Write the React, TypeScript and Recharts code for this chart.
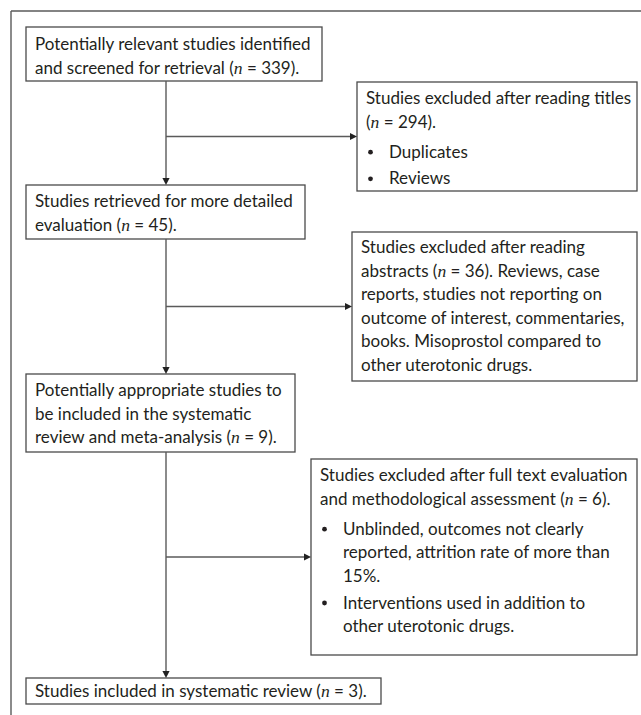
import React from "react";
import { ComposedChart, XAxis, YAxis, ReferenceArea, ReferenceLine } from "recharts";

// flow counts
const stageCounts = [339, 45, 9, 3];
const exclusionCounts = [294, 36, 6];

// box texts, "{n}" is replaced by "n = count"
const stageLines = [
  ["Potentially relevant studies identified", "and screened for retrieval ({n})."],
  ["Studies retrieved for more detailed", "evaluation ({n})."],
  ["Potentially appropriate studies to", "be included in the systematic", "review and meta-analysis ({n})."],
  ["Studies included in systematic review ({n})."],
];
const exclusionLines = [
  ["Studies excluded after reading titles", "({n})."],
  [
    "Studies excluded after reading",
    "abstracts ({n}). Reviews, case",
    "reports, studies not reporting on",
    "outcome of interest, commentaries,",
    "books. Misoprostol compared to",
    "other uterotonic drugs.",
  ],
  ["Studies excluded after full text evaluation", "and methodological assessment ({n})."],
];
const exclusionBullets = [
  [["Duplicates"], ["Reviews"]],
  [],
  [
    ["Unblinded, outcomes not clearly", "reported, attrition rate of more than", "15%."],
    ["Interventions used in addition to", "other uterotonic drugs."],
  ],
];

// layout (axis units == pixels)
const W = 641;
const H = 715;
const FRAME = 11;
const SPINE_X = 166;
const LINE_H = 23.6;
const LIST_GAP = 6.5;
const BULLET_GAP = 3;
const stageBoxes = [
  { x1: 26, x2: 322, y1: 27, y2: 81, pad: 23 },
  { x1: 26, x2: 305, y1: 185, y2: 239, pad: 22 },
  { x1: 26, x2: 295, y1: 374, y2: 452, pad: 22 },
  { x1: 26, x2: 381, y1: 678, y2: 704, pad: 19 },
];
const exclusionBoxes = [
  { x1: 357, x2: 637, y1: 82, y2: 191, pad: 22 },
  { x1: 352, x2: 637, y1: 232, y2: 381, pad: 21 },
  { x1: 311, x2: 637, y1: 459, y2: 655, pad: 22 },
];

const FONT = "Lato, 'Open Sans', sans-serif";
const FONT_SIZE = 17;
const INK = "#231f20";
const BOX_STROKE = "#4a4a4a";
const LINK_STROKE = "#5a5a5a";

function lineContent(line: string, count: number) {
  const i = line.indexOf("{n}");
  if (i < 0) return line;
  return (
    <>
      {line.slice(0, i)}
      <tspan fontFamily="'Liberation Serif', serif" fontStyle="italic" fontSize={FONT_SIZE + 0.6}>
        n
      </tspan>
      {` = ${count}`}
      {line.slice(i + 3)}
    </>
  );
}

function makeBoxShape(lines: string[], bullets: string[][], count: number, pad: number) {
  return (p: any) => {
    const { x, y, width, height } = p;
    const tx = x + 9;
    let by = y + pad;
    const out: React.ReactNode[] = [];
    lines.forEach((l, i) => {
      out.push(
        <text key={`l${i}`} x={tx} y={by + i * LINE_H}>
          {lineContent(l, count)}
        </text>
      );
    });
    by += lines.length * LINE_H + LIST_GAP;
    bullets.forEach((b, j) => {
      out.push(<circle key={`d${j}`} cx={x + 13.5} cy={by - 5.5} r={2.4} fill={INK} />);
      b.forEach((l, i) => {
        out.push(
          <text key={`b${j}-${i}`} x={x + 32} y={by + i * LINE_H}>
            {l}
          </text>
        );
      });
      by += b.length * LINE_H + BULLET_GAP;
    });
    return (
      <g>
        <rect x={x} y={y} width={width} height={height} fill="#fff" stroke={BOX_STROKE} strokeWidth={1.3} />
        <g fontFamily={FONT} fontSize={FONT_SIZE} fill={INK}>
          {out}
        </g>
      </g>
    );
  };
}

function arrowShape(withHead: boolean) {
  return (p: any) => {
    const { x1, y1, x2, y2 } = p;
    const len = Math.hypot(x2 - x1, y2 - y1) || 1;
    const ux = (x2 - x1) / len;
    const uy = (y2 - y1) / len;
    const hl = 7;
    const hw = 3.6;
    const bx = x2 - ux * hl;
    const byy = y2 - uy * hl;
    return (
      <g>
        <line x1={x1} y1={y1} x2={withHead ? bx : x2} y2={withHead ? byy : y2} stroke={LINK_STROKE} strokeWidth={1.4} />
        {withHead && (
          <polygon
            points={`${x2},${y2} ${bx - uy * hw},${byy + ux * hw} ${bx + uy * hw},${byy - ux * hw}`}
            fill="#222"
          />
        )}
      </g>
    );
  };
}

const chartData = stageCounts.map((n, i) => ({ stage: i, n, excluded: exclusionCounts[i] ?? 0 }));

export default function App() {
  return (
    <div style={{ width: W, height: H, background: "#fff" }}>
      <style>{`body{margin:0}`}</style>
      <ComposedChart width={W} height={H} data={chartData} margin={{ top: 0, right: 0, bottom: 0, left: 0 }}>
        <XAxis type="number" dataKey="stage" domain={[0, W]} allowDataOverflow hide />
        <YAxis type="number" domain={[0, H]} reversed allowDataOverflow hide />

        {/* outer frame: left and top rules */}
        <ReferenceLine
          segment={[{ x: FRAME, y: FRAME }, { x: FRAME, y: H }]}
          shape={arrowShape(false)}
          ifOverflow="extendDomain"
        />
        <ReferenceLine
          segment={[{ x: FRAME, y: FRAME }, { x: W, y: FRAME }]}
          shape={arrowShape(false)}
          ifOverflow="extendDomain"
        />

        {/* spine */}
        {stageBoxes.slice(0, -1).map((b, i) => (
          <ReferenceLine
            key={`s${i}`}
            segment={[{ x: SPINE_X, y: b.y2 }, { x: SPINE_X, y: stageBoxes[i + 1].y1 }]}
            shape={arrowShape(true)}
          />
        ))}

        {/* branches to exclusion boxes */}
        {exclusionBoxes.map((b, i) => {
          const my = (b.y1 + b.y2) / 2;
          return (
            <ReferenceLine
              key={`e${i}`}
              segment={[{ x: SPINE_X, y: my }, { x: b.x1, y: my }]}
              shape={arrowShape(true)}
            />
          );
        })}

        {stageBoxes.map((b, i) => (
          <ReferenceArea
            key={`sb${i}`}
            x1={b.x1}
            x2={b.x2}
            y1={b.y1}
            y2={b.y2}
            shape={makeBoxShape(stageLines[i], [], stageCounts[i], b.pad)}
          />
        ))}
        {exclusionBoxes.map((b, i) => (
          <ReferenceArea
            key={`eb${i}`}
            x1={b.x1}
            x2={b.x2}
            y1={b.y1}
            y2={b.y2}
            shape={makeBoxShape(exclusionLines[i], exclusionBullets[i], exclusionCounts[i], b.pad)}
          />
        ))}
      </ComposedChart>
    </div>
  );
}
